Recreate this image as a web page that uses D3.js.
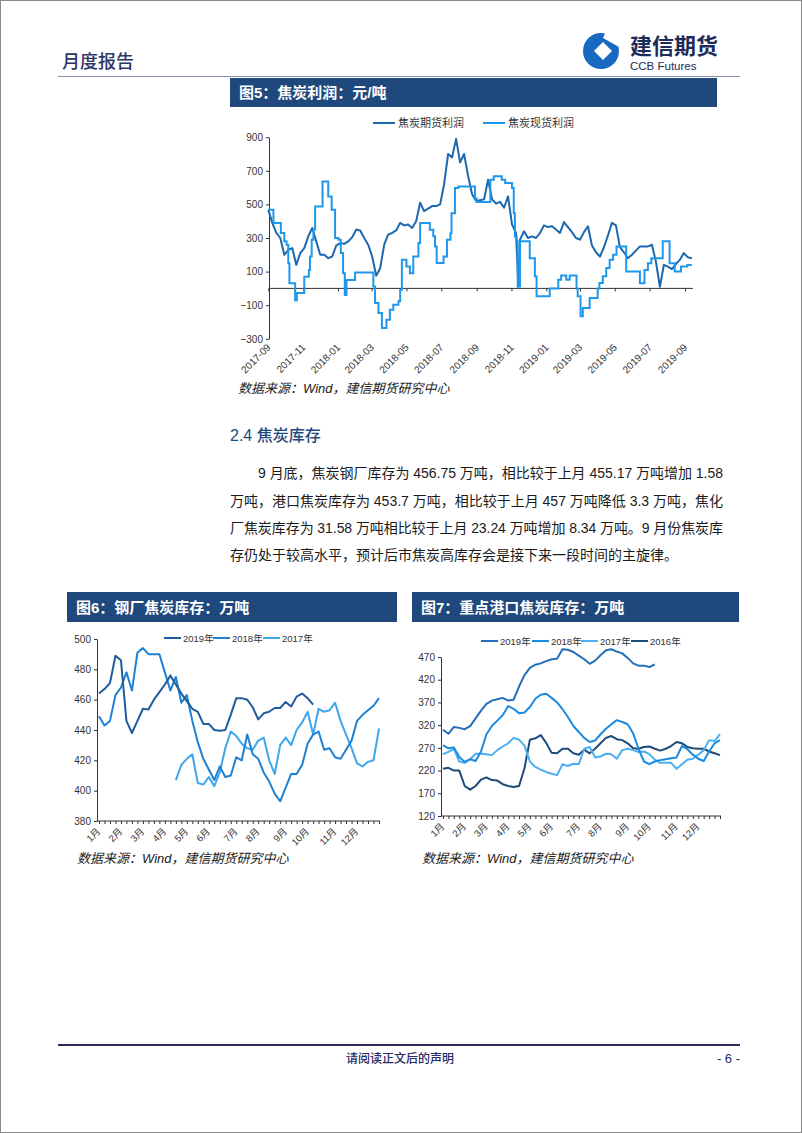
<!DOCTYPE html>
<html><head><meta charset="utf-8">
<script src="https://cdn.jsdelivr.net/npm/d3@7"></script>
<style>
html,body{margin:0;padding:0;background:#fff;}
svg{display:block;}
text{font-family:"Liberation Sans","Noto Sans CJK SC",sans-serif;}
</style></head>
<body>
<svg id="page" width="802" height="1133"></svg>
<script>
// ---------------- DATA ----------------
// Figure 5: coke profit (yuan/ton)
const futuresDates = ["2017-09-01","2017-09-08","2017-09-15","2017-09-22","2017-09-29","2017-10-06","2017-10-13","2017-10-20","2017-10-27","2017-11-03","2017-11-10","2017-11-17","2017-11-24","2017-12-01","2017-12-08","2017-12-15","2017-12-22","2017-12-29","2018-01-05","2018-01-12","2018-01-19","2018-01-26","2018-02-02","2018-02-09","2018-02-16","2018-02-23","2018-03-02","2018-03-09","2018-03-16","2018-03-23","2018-03-30","2018-04-06","2018-04-13","2018-04-20","2018-04-27","2018-05-04","2018-05-11","2018-05-18","2018-05-25","2018-06-01","2018-06-08","2018-06-15","2018-06-22","2018-06-29","2018-07-06","2018-07-13","2018-07-20","2018-07-27","2018-08-03","2018-08-10","2018-08-17","2018-08-24","2018-08-31","2018-09-07","2018-09-14","2018-09-21","2018-09-28","2018-10-05","2018-10-12","2018-10-19","2018-10-26","2018-11-02","2018-11-09","2018-11-13","2018-11-16","2018-11-23","2018-11-30","2018-12-07","2018-12-14","2018-12-21","2018-12-28","2019-01-04","2019-01-11","2019-01-18","2019-01-25","2019-02-01","2019-02-08","2019-02-15","2019-02-22","2019-03-01","2019-03-08","2019-03-15","2019-03-22","2019-03-29","2019-04-05","2019-04-12","2019-04-19","2019-04-26","2019-05-03","2019-05-10","2019-05-17","2019-05-24","2019-05-31","2019-06-07","2019-06-14","2019-06-21","2019-06-28","2019-07-05","2019-07-12","2019-07-19","2019-07-26","2019-08-02","2019-08-09","2019-08-16","2019-08-23","2019-08-30","2019-09-06","2019-09-13"];
const futuresProfit = [468,390,330,300,200,230,240,140,210,240,310,360,280,200,200,180,190,255,270,265,280,305,350,345,300,260,190,75,120,260,320,330,345,390,375,380,360,400,510,460,475,490,490,500,620,800,780,890,750,800,670,560,520,525,530,647,530,505,515,480,548,380,330,10,290,340,300,310,300,330,375,365,370,350,330,395,365,335,300,290,335,370,255,215,190,245,315,390,375,245,215,180,200,225,250,250,250,260,160,10,140,130,115,145,170,210,185,180];
const spotDates = ["2017-09-01","2017-09-10","2017-09-23","2017-09-29","2017-10-03","2017-10-06","2017-10-08","2017-10-18","2017-10-21","2017-11-03","2017-11-11","2017-11-13","2017-11-16","2017-11-19","2017-11-22","2017-12-05","2017-12-15","2017-12-21","2017-12-27","2018-01-02","2018-01-06","2018-01-10","2018-01-13","2018-01-16","2018-01-31","2018-03-04","2018-03-07","2018-03-13","2018-03-19","2018-03-27","2018-04-02","2018-04-08","2018-04-17","2018-04-20","2018-04-23","2018-05-01","2018-05-07","2018-05-13","2018-05-22","2018-05-25","2018-06-11","2018-06-17","2018-06-20","2018-06-23","2018-07-05","2018-07-11","2018-07-17","2018-07-19","2018-07-25","2018-07-31","2018-08-29","2018-09-01","2018-09-25","2018-10-01","2018-10-15","2018-10-21","2018-11-02","2018-11-05","2018-11-07","2018-11-10","2018-11-12","2018-11-16","2018-12-03","2018-12-12","2018-12-15","2019-01-07","2019-01-22","2019-01-27","2019-02-05","2019-02-11","2019-02-23","2019-02-25","2019-03-02","2019-03-06","2019-03-18","2019-04-01","2019-04-04","2019-04-10","2019-04-16","2019-04-22","2019-04-28","2019-05-04","2019-05-21","2019-06-14","2019-06-22","2019-06-28","2019-07-04","2019-07-24","2019-08-05","2019-08-14","2019-08-25","2019-09-05","2019-09-13"];
const spotProfit = [468,389,330,280,260,150,30,-70,-27,70,110,190,290,350,488,637,547,468,300,290,210,90,-40,50,95,12,-87,-147,-236,-186,-127,-97,-77,-8,170,130,90,190,270,389,349,310,250,151,190,290,329,448,597,607,537,515,647,667,647,627,597,448,309,280,12,280,180,71,-47,0,52,77,52,77,0,-47,-166,-117,-57,0,32,72,121,170,200,250,101,30,110,150,180,280,150,100,130,140,140];
const fig5Series = ["焦炭期货利润","焦炭现货利润"];
const fig5YTicks = [-300,-100,100,300,500,700,900];
const fig5XTicks = ["2017-09","2017-11","2018-01","2018-03","2018-05","2018-07","2018-09","2018-11","2019-01","2019-03","2019-05","2019-07","2019-09"];

// Figure 6: steel mill coke inventory (weekly, 10k t)
const monthLabels = ["1月","2月","3月","4月","5月","6月","7月","8月","9月","10月","11月","12月"];
const monthWeekIndex = [0,4,8,12,16,20,25,29,34,38,43,47];
const steelYears = ["2019年","2018年","2017年"];
const steel2019 = [464,467,471,489,486,446,438,446,454,453.5,460,465,470,476,470,464,459,454,452,444,444,440,439.5,440,450,461,461,460,455,447,451,452,454.5,454.5,458.5,455.5,462,464,461,456.75];
const steel2018 = [449,443,446,463,468,478,466,491,494,490,490,490,478,466,475,458,463,446,432,421,414,407,416,409,410,422,420,437,424,421,412,406,398,393,402,411,411,417,431,437,439,427,428,422,421,427,433,446,450,453,456,461];
const steel2017 = [null,null,null,null,null,null,null,null,null,null,null,null,null,null,407,417,421,424,405,404,409,403,412,428,439,436,431,428,427,433,435,420,411,430,435,430,440,445,452,437,454,452,453,458,446,437,428,418,416,419,420,441];
const steelYTicks = [380,400,420,440,460,480,500];

// Figure 7: key port coke inventory (weekly, 10k t)
const portYears = ["2019年","2018年","2017年","2016年"];
const port2019 = [310,301,316,314,311,318,335,352,367,374,377,380,374,376,405,430,446,453,456,461,465,466,487,486,481,473,465,455,462,474,485,487,482,478,468,456,451,451,448,453.7];
const port2018 = [276,269,271,250,239,245,241,262,300,318,330,342,362,356,346,348,360,378,387,389,380,370,355,338,318,305,292,283,286,300,312,322,331,327,322,302,268,240,234,240,243,245,247,249,274,267,255,246,241,262,280,287];
const port2017 = [256,261,268,240,237,245,257,257,256,254,265,273,280,292,288,275,240,228,222,217,213,210,234,230,235,234,268,272,249,251,257,256,246,265,268,265,261,262,256,244,237,237,237,224,234,244,246,255,265,287,285,300];
const port2016 = [224,226,220,220,186,178,186,200,205,199,198,190,186,184,186,225,288,291,298,281,259,258,268,268,258,255,266,258,268,280,292,296,289,287,280,269,268,272,273,268,264,268,274,283,280,272,269,268,268,262,258,254];
const portYTicks = [120,170,220,270,320,370,420,470];

// Text
const bodyLines = [
 "9 月底，焦炭钢厂库存为 456.75 万吨，相比较于上月 455.17 万吨增加 1.58",
 "万吨，港口焦炭库存为 453.7 万吨，相比较于上月 457 万吨降低 3.3 万吨，焦化",
 "厂焦炭库存为 31.58 万吨相比较于上月 23.24 万吨增加 8.34 万吨。9 月份焦炭库",
 "存仍处于较高水平，预计后市焦炭高库存会是接下来一段时间的主旋律。"
];

// ---------------- DRAW ----------------
const svg = d3.select("#page");
const NAVY = "#1f497d";
const CJK = '"Noto Sans CJK SC","Liberation Sans",sans-serif';

// page frame
svg.append("rect").attr("x",0.5).attr("y",0.5).attr("width",801).attr("height",1132)
  .attr("fill","#fff").attr("stroke","#8a8a8a");

// header
svg.append("text").attr("x",62).attr("y",68).text("月度报告")
  .attr("font-family",CJK).attr("font-size",18).attr("font-weight",500).attr("fill","#2b3566");
svg.append("line").attr("x1",58).attr("x2",740).attr("y1",76.5).attr("y2",76.5)
  .attr("stroke","#8a8ea8").attr("stroke-width",1.2);
// logo
const logo = svg.append("g").attr("transform","translate(601,51)");
logo.append("circle").attr("r",18).attr("fill","#1769c2");
logo.append("path").attr("d","M2,-13 L18,-4 L18,-18 L4,-18 Z").attr("fill","#fff");
logo.append("path").attr("d","M2,-9 L11,0 L2,9 L-7,0 Z").attr("fill","#fff");
svg.append("text").attr("x",630).attr("y",54).text("建信期货")
  .attr("font-family",CJK).attr("font-size",22).attr("font-weight",700).attr("fill","#1c2a5c");
svg.append("text").attr("x",630).attr("y",70).text("CCB Futures")
  .attr("font-size",11.5).attr("fill","#1c2a5c");

function titleBar(x,y,w,h,label){
  svg.append("rect").attr("x",x).attr("y",y).attr("width",w).attr("height",h).attr("fill",NAVY);
  svg.append("text").attr("x",x+9).attr("y",y+h/2+5.5).text(label)
    .attr("font-family",CJK).attr("font-size",15).attr("font-weight",700).attr("fill","#fff");
}
function source(x,y){
  svg.append("text").attr("x",x).attr("y",y).text("数据来源：Wind，建信期货研究中心")
    .attr("font-family",CJK).attr("font-size",13).attr("font-style","italic").attr("fill","#222");
}

// ===== Figure 5 =====
titleBar(230,78,487,29,"图5：焦炭利润：元/吨");
const parse = d3.timeParse("%Y-%m-%d");
const x5 = d3.scaleTime().domain([parse("2017-09-01"),parse("2019-09-01")]).range([268.3,685]);
const y5 = d3.scaleLinear().domain([-300,900]).range([338.8,137.2]);
const g5 = svg.append("g");
// y axis
g5.append("g").attr("transform","translate(269,0)")
  .call(d3.axisLeft(y5).tickValues(fig5YTicks).tickSize(3).tickPadding(3).tickSizeOuter(0))
  .call(g=>{g.select(".domain").attr("stroke","#333");
    g.selectAll(".tick line").attr("stroke","#333");
    g.selectAll("text").attr("font-size",10).attr("fill","#333").attr("font-family","Liberation Sans");});
// zero axis with ticks
const xTickDates5 = fig5XTicks.map(s=>parse(s+"-01"));
g5.append("g").attr("transform",`translate(0,${y5(0)})`)
  .call(d3.axisBottom(x5).tickValues(xTickDates5).tickSize(3).tickFormat(()=>"").tickSizeOuter(0))
  .call(g=>{g.select(".domain").attr("stroke","#333").attr("d",`M269,0H693`);
    g.selectAll(".tick line").attr("stroke","#333");});
// x labels at bottom
g5.selectAll("text.xl").data(fig5XTicks).enter().append("text")
  .attr("transform",(d,i)=>`translate(${x5(xTickDates5[i])+3},${348}) rotate(-45)`)
  .attr("text-anchor","end").attr("font-size",10).attr("fill","#333").text(d=>d);
const fut = futuresDates.map((d,i)=>({date:parse(d),v:futuresProfit[i]}));
const spot = spotDates.map((d,i)=>({date:parse(d),v:spotProfit[i]}));
g5.append("path").datum(fut).attr("fill","none").attr("stroke","#1c68b0").attr("stroke-width",2)
  .attr("stroke-linejoin","round")
  .attr("d",d3.line().x(d=>x5(d.date)).y(d=>y5(d.v)));
g5.append("path").datum(spot).attr("fill","none").attr("stroke","#1e98ea").attr("stroke-width",2)
  .attr("d",d3.line().curve(d3.curveStepAfter).x(d=>x5(d.date)).y(d=>y5(d.v)));
// legend
const leg5 = [{x:373,c:"#1c68b0"},{x:483,c:"#1e98ea"}];
leg5.forEach((l,i)=>{
  g5.append("line").attr("x1",l.x).attr("x2",l.x+22).attr("y1",123).attr("y2",123).attr("stroke",l.c).attr("stroke-width",2);
  g5.append("text").attr("x",l.x+25).attr("y",127).text(fig5Series[i]).attr("font-family",CJK).attr("font-size",11).attr("fill","#333");
});
source(238,393);

// ===== section text =====
svg.append("text").attr("x",230).attr("y",441).text("2.4 焦炭库存")
  .attr("font-family",CJK).attr("font-size",16).attr("font-weight",500).attr("fill",NAVY);
const bx = [258,230,230,230], bw=[465,493,493,null], by=[478,506,533,560];
bodyLines.forEach((t,i)=>{
  const el = svg.append("text").attr("x",bx[i]).attr("y",by[i]).text(t)
    .attr("font-size",14).attr("fill","#1a1a1a");
  if(bw[i]) el.attr("textLength",bw[i]).attr("lengthAdjust","spacing");
});

// helper for weekly charts
function weekly(opts){
  const {x0,x1,yTop,yBot,ticks,dom,series,colors,legend,lx,ly} = opts;
  const x = d3.scaleLinear().domain([0,51]).range([x0+2,x1-1]);
  const y = d3.scaleLinear().domain(dom).range([yBot,yTop]);
  const g = svg.append("g");
  g.append("g").attr("transform",`translate(${x0},0)`)
    .call(d3.axisLeft(y).tickValues(ticks).tickSize(3).tickPadding(3).tickSizeOuter(0))
    .call(a=>{a.select(".domain").attr("stroke","#333");a.selectAll(".tick line").attr("stroke","#333");
      a.selectAll("text").attr("font-size",10).attr("fill","#333");});
  g.append("g").attr("transform",`translate(0,${yBot})`)
    .call(d3.axisBottom(x).tickValues(d3.range(52)).tickSize(3).tickFormat(()=>"").tickSizeOuter(0))
    .call(a=>{a.select(".domain").attr("stroke","#333").attr("d",`M${x0},0H${x1}`);a.selectAll(".tick line").attr("stroke","#333");});
  g.selectAll("text.ml").data(monthLabels).enter().append("text")
    .attr("transform",(d,i)=>`translate(${x(monthWeekIndex[i])+2},${yBot+11}) rotate(-45)`)
    .attr("text-anchor","end").attr("font-family",CJK).attr("font-size",9.5).attr("fill","#333").text(d=>d);
  const line = d3.line().defined(d=>d!=null).x((d,i)=>x(i)).y(d=>y(d));
  series.slice().reverse().forEach((s,ri)=>{
    const i = series.length-1-ri;
    g.append("path").datum(s).attr("fill","none").attr("stroke",colors[i]).attr("stroke-width",2)
      .attr("stroke-linejoin","round").attr("d",line);
  });
  legend.forEach((t,i)=>{
    g.append("line").attr("x1",lx[i]).attr("x2",lx[i]+17).attr("y1",ly).attr("y2",ly).attr("stroke",colors[i]).attr("stroke-width",2);
    g.append("text").attr("x",lx[i]+19).attr("y",ly+3.5).text(t).attr("font-family",CJK).attr("font-size",9.5).attr("fill","#333");
  });
}

// ===== Figure 6 =====
titleBar(67,592,330,30,"图6：钢厂焦炭库存：万吨");
weekly({x0:97,x1:380,yTop:639,yBot:821,ticks:steelYTicks,dom:[380,500],
  series:[steel2019,steel2018,steel2017],colors:["#1f5c9c","#1e80d2","#3ea6ec"],
  legend:steelYears,lx:[164,213,263],ly:638});
source(77,863);

// ===== Figure 7 =====
titleBar(412,592,327,30,"图7：重点港口焦炭库存：万吨");
weekly({x0:441,x1:721,yTop:657,yBot:816,ticks:portYTicks,dom:[120,470],
  series:[port2019,port2018,port2017,port2016],colors:["#2370b9","#1b8ae0","#4bb0f2","#1d4a7c"],
  legend:portYears,lx:[481,532,581,631],ly:641});
source(422,863);

// footer
svg.append("line").attr("x1",58).attr("x2",740).attr("y1",1045).attr("y2",1045).attr("stroke","#2a2a5e").attr("stroke-width",2);
svg.append("text").attr("x",400).attr("y",1063).attr("text-anchor","middle").text("请阅读正文后的声明")
  .attr("font-family",CJK).attr("font-size",12).attr("font-weight",500).attr("fill","#2a2a66");
svg.append("text").attr("x",740).attr("y",1063).attr("text-anchor","end").text("- 6 -")
  .attr("font-size",13).attr("fill","#2a2a66");
</script>
</body></html>
